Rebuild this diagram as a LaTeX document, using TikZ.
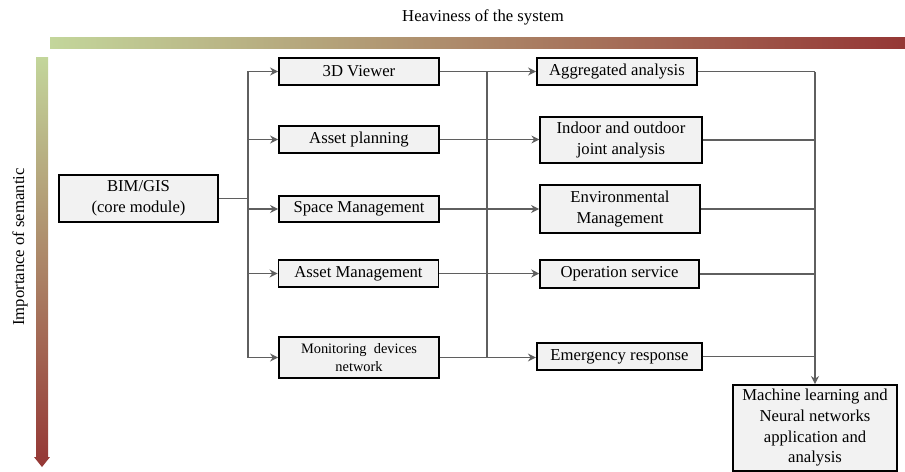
\documentclass[tikz,border=0pt]{standalone}
\usepackage{fontspec}
\setmainfont{Liberation Serif}
\usepackage{xcolor}
\usepackage{tikz}
\usetikzlibrary{arrows.meta}
\usetikzlibrary{calc}
\usetikzlibrary{positioning}

\definecolor{boxgray}{HTML}{F2F2F2}
\definecolor{linegray}{HTML}{5F5F5F}
\definecolor{barstart}{HTML}{C3D69B}
\definecolor{barend}{HTML}{953735}

\tikzset{
  box/.style={draw=black, line width=1.4pt, fill=boxgray, align=center, inner sep=0pt,
    font=\fontsize{12.5}{15.5}\selectfont},
  link/.style={draw=linegray, line width=1.4pt},
  arr/.style={link, -{Stealth[length=6pt,width=6pt]}}
}

\begin{document}
\begin{tikzpicture}[x=0.75pt,y=-0.75pt]
        % Module map of the BIM/GIS platform
        \useasboundingbox (0,0) rectangle (905,471);

        % axes
        \shade[left color=barstart, right color=barend] (50,37) rectangle (905,48);
        \shade[top color=barstart, bottom color=barend] (36,57) -- (48,57) -- (48,457)
            -- (50,457) -- (42,467) -- (34,457) -- (36,457) -- cycle;
        \node[font=\fontsize{12.5}{14}\selectfont] (heavy) at (483,17) {Heaviness of the system};
        \node[rotate=90, font=\fontsize{12.5}{14}\selectfont] (sem) at (20,247) {Importance of semantic};

        % core module
        \node[box, minimum width=119pt, minimum height=35pt] (core) at (138.5,198.5) {BIM/GIS\\(core module)};

        % first level
        \node[box, minimum width=120pt, minimum height=20pt] (viewer) at (359,71.5) {3D Viewer};
        \node[box, minimum width=120pt, minimum height=20pt] (plan) at (359,139.5) {Asset planning};
        \node[box, minimum width=120pt, minimum height=20pt] (space) at (359,209) {Space Management};
        \node[box, minimum width=120pt, minimum height=20pt] (asset) at (358.5,273.5) {Asset Management};
        \node[box, minimum width=120pt, minimum height=31pt, font=\fontsize{10.8}{14}\selectfont] (monitor) at (359,357.5) {Monitoring\ \ devices\\network};

        % second level
        \node[box, minimum width=120pt, minimum height=20pt] (aggr) at (617,71.5) {Aggregated analysis};
        \node[box, minimum width=121pt, minimum height=35pt] (joint) at (621,140) {Indoor and outdoor\\joint analysis};
        \node[box, minimum width=120pt, minimum height=35.5pt] (env) at (620,209) {Environmental\\Management};
        \node[box, minimum width=119pt, minimum height=21pt] (oper) at (619.5,274) {Operation service};
        \node[box, minimum width=124pt, minimum height=20pt] (emerg) at (619.5,356.5) {Emergency response};

        % third level
        \node[box, minimum width=123pt, minimum height=64.5pt] (ml) at (815,428) {Machine learning and\\Neural networks\\application and\\analysis};

        % bus points
        \coordinate (fork) at (248,198.5);
        \coordinate (mid) at (487,71.5);
        \coordinate (join) at (815,71.5);

        \draw[link] (core.east) -- (fork);
        \foreach \n in {viewer,plan,space,asset,monitor}
            \draw[arr] (fork) |- (\n.west);

        \draw[link] (viewer.east -| mid) -- (monitor.east -| mid);
        \draw[arr] (viewer.east) -- (aggr.west);
        \draw[arr] (plan.east) -- (plan.east -| joint.west);
        \draw[arr] (space.east) -- (space.east -| env.west);
        \draw[arr] (asset.east) -- (asset.east -| oper.west);
        \draw[arr] (monitor.east) -- (monitor.east -| emerg.west);

        \foreach \n in {aggr,joint,env,oper,emerg}
            \draw[link] (\n.east) -- (\n.east -| join);
        \draw[arr] (join) -- (ml.north);
    \end{tikzpicture}
\end{document}
